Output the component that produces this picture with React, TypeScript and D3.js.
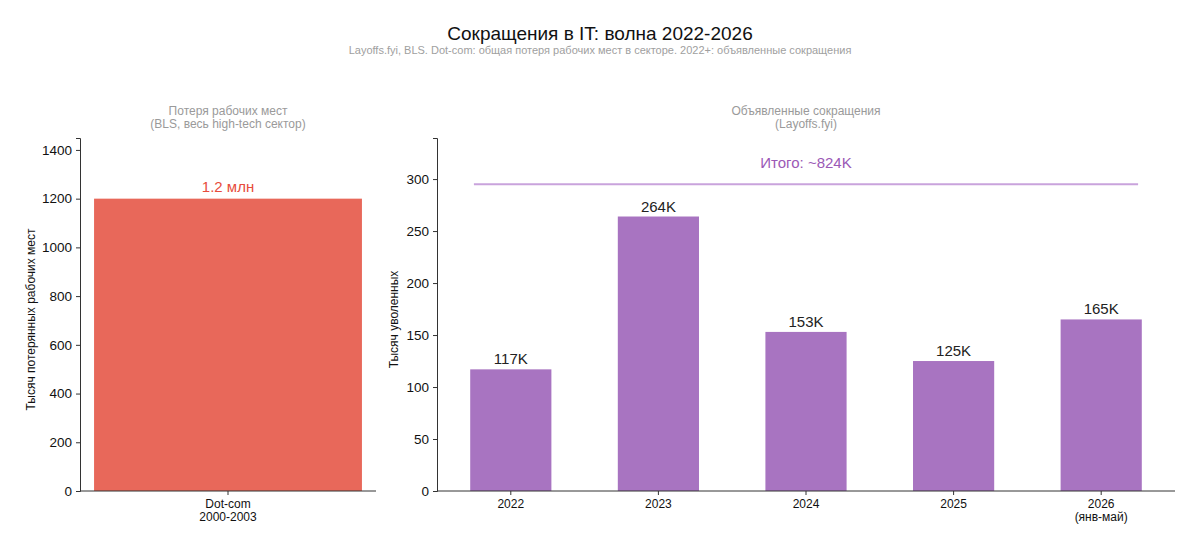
import React, { useEffect, useRef } from "react";
import * as d3 from "d3";

// data
const dotcomLabels = ["Dot-com\n2000-2003"];
const dotcomValues = [1200];
const dotcomTicks = [0, 200, 400, 600, 800, 1000, 1200, 1400];

const waveYears = ["2022", "2023", "2024", "2025", "2026\n(янв-май)"];
const waveValues = [117, 264, 153, 125, 165];
const waveTicks = [0, 50, 100, 150, 200, 250, 300];

const FONT = "'Liberation Sans', Arial, Helvetica, sans-serif";

export default function App() {
  const ref = useRef<SVGSVGElement>(null);

  useEffect(() => {
    const svg = d3.select(ref.current);
    svg.selectAll("*").remove();
    svg.style("font-family", FONT);

    // title
    svg.append("text").attr("x", 600).attr("y", 40).attr("text-anchor", "middle")
      .style("font-size", "19px").style("fill", "#111").text("Сокращения в IT: волна 2022-2026");
    svg.append("text").attr("x", 600).attr("y", 54).attr("text-anchor", "middle")
      .style("font-size", "11px").style("fill", "#a0a0a0")
      .text("Layoffs.fyi, BLS. Dot-com: общая потеря рабочих мест в секторе. 2022+: объявленные сокращения");

    const top = 138, bottom = 491;
    const fmt = d3.format("d");

    // ---------- left panel ----------
    const lLeft = 80, lRight = 376;
    const yL = d3.scaleLinear().domain([0, 1449]).range([bottom, top]);
    const xL = d3.scaleLinear().domain([-0.5, 0.5]).range([lLeft, lRight]);
    const gl = svg.append("g");

    gl.append("text").attr("x", (lLeft + lRight) / 2).attr("y", 115).attr("text-anchor", "middle")
      .style("font-size", "12px").style("fill", "#9a9a9a").text("Потеря рабочих мест");
    gl.append("text").attr("x", (lLeft + lRight) / 2).attr("y", 128).attr("text-anchor", "middle")
      .style("font-size", "12px").style("fill", "#9a9a9a").text("(BLS, весь high-tech сектор)");

    const bwL = 0.905;
    gl.selectAll(".barL").data(dotcomValues).join("rect")
      .attr("x", (d, i) => xL(i - bwL / 2)).attr("width", xL(bwL) - xL(0))
      .attr("y", d => yL(d)).attr("height", d => yL(0) - yL(d))
      .attr("fill", "#e8685a");
    gl.selectAll(".valL").data(dotcomValues).join("text")
      .attr("x", (d, i) => xL(i)).attr("y", d => yL(d) - 7).attr("text-anchor", "middle")
      .style("font-size", "15px").style("fill", "#e74c3c").text("1.2 млн");

    const axL = gl.append("g").attr("transform", `translate(${lLeft},0)`)
      .call(d3.axisLeft(yL).tickValues(dotcomTicks).tickFormat(fmt).tickSize(4).tickPadding(4));
    axL.select(".domain").attr("stroke", "#333");
    axL.selectAll("text").style("font-size", "13.5px").style("font-family", FONT).style("fill", "#111");
    axL.selectAll("line").attr("stroke", "#333");

    const axLb = gl.append("g").attr("transform", `translate(0,${bottom})`);
    axLb.append("line").attr("x1", lLeft).attr("x2", lRight).attr("stroke", "#333");
    dotcomLabels.forEach((lab, i) => {
      axLb.append("line").attr("x1", xL(i)).attr("x2", xL(i)).attr("y2", 4).attr("stroke", "#333");
      lab.split("\n").forEach((s, j) => {
        axLb.append("text").attr("x", xL(i)).attr("y", 17 + j * 13).attr("text-anchor", "middle")
          .style("font-size", "12px").style("fill", "#111").text(s);
      });
    });

    gl.append("text").attr("transform", `translate(35,${(top + bottom) / 2 + 5}) rotate(-90)`)
      .attr("text-anchor", "middle").style("font-size", "12px").style("fill", "#111")
      .text("Тысяч потерянных рабочих мест");

    // ---------- right panel ----------
    const rLeft = 437, rRight = 1175;
    const yR = d3.scaleLinear().domain([0, 339.5]).range([bottom, top]);
    const xR = d3.scaleLinear().domain([-0.5, 4.5]).range([rLeft, rRight]);
    const gr = svg.append("g");

    gr.append("text").attr("x", (rLeft + rRight) / 2).attr("y", 115).attr("text-anchor", "middle")
      .style("font-size", "12px").style("fill", "#9a9a9a").text("Объявленные сокращения");
    gr.append("text").attr("x", (rLeft + rRight) / 2).attr("y", 128).attr("text-anchor", "middle")
      .style("font-size", "12px").style("fill", "#9a9a9a").text("(Layoffs.fyi)");

    const bwR = 0.55;
    gr.selectAll(".barR").data(waveValues).join("rect")
      .attr("x", (d, i) => xR(i - bwR / 2)).attr("width", xR(bwR) - xR(0))
      .attr("y", d => yR(d)).attr("height", d => yR(0) - yR(d))
      .attr("fill", "#a874c1");
    gr.selectAll(".valR").data(waveValues).join("text")
      .attr("x", (d, i) => xR(i)).attr("y", d => yR(d) - 5).attr("text-anchor", "middle")
      .style("font-size", "15px").style("fill", "#222").text(d => `${d}K`);

    const total = d3.sum(waveValues);
    gr.append("line").attr("x1", xR(-0.25)).attr("x2", xR(4.25))
      .attr("y1", yR(295)).attr("y2", yR(295))
      .attr("stroke", "#c9a3dc").attr("stroke-width", 2);
    gr.append("text").attr("x", xR(2)).attr("y", yR(315) + 5).attr("text-anchor", "middle")
      .style("font-size", "15px").style("fill", "#9b59b6").text(`Итого: ~${total}K`);

    const axR = gr.append("g").attr("transform", `translate(${rLeft},0)`)
      .call(d3.axisLeft(yR).tickValues(waveTicks).tickFormat(fmt).tickSize(4).tickPadding(4));
    axR.select(".domain").attr("stroke", "#333");
    axR.selectAll("text").style("font-size", "13.5px").style("font-family", FONT).style("fill", "#111");
    axR.selectAll("line").attr("stroke", "#333");

    const axRb = gr.append("g").attr("transform", `translate(0,${bottom})`);
    axRb.append("line").attr("x1", rLeft).attr("x2", rRight).attr("stroke", "#333");
    waveYears.forEach((lab, i) => {
      axRb.append("line").attr("x1", xR(i)).attr("x2", xR(i)).attr("y2", 4).attr("stroke", "#333");
      lab.split("\n").forEach((s, j) => {
        axRb.append("text").attr("x", xR(i)).attr("y", 17 + j * 13).attr("text-anchor", "middle")
          .style("font-size", "12px").style("fill", "#111").text(s);
      });
    });

    gr.append("text").attr("transform", `translate(398,${(top + bottom) / 2 + 5}) rotate(-90)`)
      .attr("text-anchor", "middle").style("font-size", "12px").style("fill", "#111")
      .text("Тысяч уволенных");
  }, []);

  return (
    <svg ref={ref} width={1200} height={550}
      style={{ position: "absolute", left: 0, top: 0, background: "#fff" }} />
  );
}
